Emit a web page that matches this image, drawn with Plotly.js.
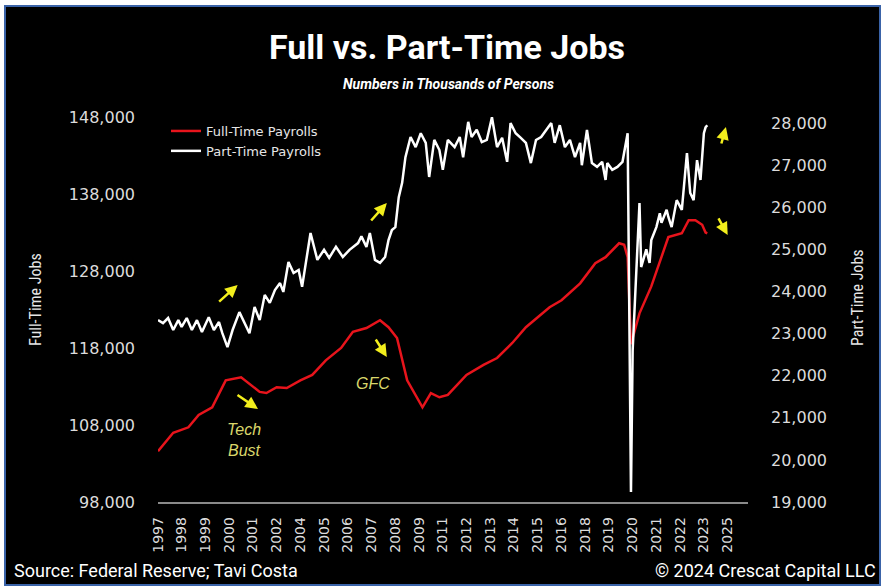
<!DOCTYPE html>
<html>
<head>
<meta charset="utf-8">
<script src="https://cdn.plot.ly/plotly-3.0.1.min.js"></script>
<style>html,body{margin:0;padding:0;background:#fff;}#chart{width:883px;height:586px;}</style>
</head>
<body>
<div id="chart"></div>
<script>
// Full-time payrolls (thousands), left axis
const ftDates = ['1997-01','1997-10','1998-07','1999-01','1999-09','2000-02','2000-05','2001-02','2001-07','2002-01','2002-05','2002-11','2003-05','2004-01','2004-08','2005-04','2006-01','2006-08','2007-04','2007-12','2008-05','2008-10','2009-04','2010-01','2010-06','2010-11','2011-04','2012-03','2013-01','2013-09','2014-06','2015-02','2016-04','2016-11','2017-10','2018-07','2019-01','2019-09','2019-12','2020-02','2020-04','2020-09','2021-04','2022-02','2022-10','2023-02','2023-06','2023-10','2023-12','2024-01'];
const ftValues = [104600,107000,107700,109300,110300,112500,113800,114200,113400,112300,112150,112900,112800,113800,114500,116400,118000,120100,120600,121600,120700,119300,113800,110300,112150,111600,111900,114500,115800,116700,118650,120700,123300,124200,126400,129000,129800,131600,131400,129800,118500,122500,126000,132400,132900,134600,134600,134000,133000,132900];

// Part-time payrolls (thousands), right axis
const ptDates = ['1997-01','1997-04','1997-07','1997-10','1998-01','1998-03','1998-06','1998-09','1998-12','1999-03','1999-07','1999-10','2000-01','2000-03','2000-06','2000-09','2001-01','2001-04','2001-07','2001-10','2002-01','2002-04','2002-07','2002-10','2003-01','2003-03','2003-06','2003-09','2003-12','2004-02','2004-05','2004-07','2004-11','2005-03','2005-06','2005-10','2006-02','2006-06','2006-11','2007-01','2007-04','2007-06','2007-09','2007-12','2008-03','2008-05','2008-07','2008-09','2008-11','2009-01','2009-03','2009-06','2009-09','2009-12','2010-03','2010-05','2010-08','2010-11','2011-01','2011-04','2011-08','2011-11','2012-01','2012-04','2012-06','2012-09','2012-12','2013-03','2013-06','2013-09','2013-12','2014-03','2014-05','2014-08','2014-11','2015-02','2015-05','2015-08','2015-11','2016-02','2016-05','2016-07','2016-10','2017-01','2017-04','2017-07','2017-10','2017-11','2018-02','2018-05','2018-08','2018-11','2019-01','2019-02','2019-05','2019-08','2019-11','2020-02','2020-04','2020-05','2020-09','2020-10','2021-01','2021-03','2021-04','2021-07','2021-09','2021-10','2022-01','2022-02','2022-04','2022-07','2022-10','2023-01','2023-03','2023-05','2023-07','2023-09','2023-11','2023-12','2024-01'];
const ptValues = [23320,23250,23370,23085,23320,23160,23370,23085,23320,23040,23390,23085,23275,23010,22680,23085,23510,23250,23010,23630,23320,23920,23730,24035,24200,23990,24700,24440,24510,24110,24820,25390,24750,24990,24800,25060,24820,24990,25150,25310,25060,25390,24750,24680,24820,25220,25460,25530,26240,26580,27190,27670,27430,27760,27530,26720,27600,27360,26890,27600,27430,27670,27190,28030,27670,27840,27550,27600,28140,27430,27650,27080,28000,27760,27650,27530,27050,27600,27670,27840,28000,27530,27950,27430,27600,27190,27530,27000,27840,27050,26960,27080,26650,27050,26890,26960,27080,27760,19240,22600,26100,24580,25000,24680,25220,25530,25860,25630,25940,25770,25530,26170,25940,27290,26340,26170,27120,26650,27760,27900,27950];

// Axis ticks
const tickDates = ['1997-01-01','1998-03-01','1999-05-01','2000-07-01','2001-09-01','2002-11-01','2004-01-01','2005-03-01','2006-05-01','2007-07-01','2008-09-01','2009-11-01','2011-01-01','2012-03-01','2013-05-01','2014-07-01','2015-09-01','2016-11-01','2018-01-01','2019-03-01','2020-05-01','2021-07-01','2022-09-01','2023-11-01','2025-01-01'];
const tickYears = ['1997','1998','1999','2000','2001','2002','2004','2005','2006','2007','2008','2009','2011','2012','2013','2014','2015','2016','2018','2019','2020','2021','2022','2023','2025'];
const leftTicks = [98000,108000,118000,128000,138000,148000];
const rightTicks = [19000,20000,21000,22000,23000,24000,25000,26000,27000,28000];

const W = 883, H = 586, L = 158, R = 748, T = 110, B = 502;
const px = x => (x - L) / (R - L);
const py = y => (B - y) / (B - T);

const tickFont = {family: 'DejaVu Sans, Verdana, sans-serif', size: 16, color: '#dcdcdc'};
const yellow = '#f2ee1c';
const noteColor = '#d9d66a';

function arrow(x, y, ax, ay) {
  return {x: x, y: y, xref: 'x', yref: 'y', ax: ax, ay: ay, axref: 'pixel', ayref: 'pixel',
    text: '', showarrow: true, arrowhead: 2, arrowsize: 1, arrowwidth: 2.5, arrowcolor: yellow};
}

const data = [
  {x: ftDates, y: ftValues, name: 'Full-Time Payrolls', type: 'scatter', mode: 'lines',
   line: {color: '#e8141c', width: 2.5}, yaxis: 'y'},
  {x: ptDates, y: ptValues, name: 'Part-Time Payrolls', type: 'scatter', mode: 'lines',
   line: {color: '#ffffff', width: 2.5}, yaxis: 'y2'}
];

const layout = {
  width: W, height: H,
  margin: {l: L, r: W - R, t: T, b: H - B, pad: 0},
  paper_bgcolor: '#ffffff', plot_bgcolor: '#000000',
  showlegend: true,
  legend: {x: px(166), y: py(116), xanchor: 'left', yanchor: 'top', bgcolor: 'rgba(0,0,0,0)',
    font: {family: 'DejaVu Sans, Verdana, sans-serif', size: 13, color: '#e6e6e6'}, tracegroupgap: 0, itemwidth: 30},
  title: {text: '<b>Full vs. Part-Time Jobs</b>', x: 447 / W, xref: 'container', xanchor: 'center',
    y: 1 - 47 / H, yref: 'container', yanchor: 'middle',
    font: {family: 'Roboto, sans-serif', size: 34, color: '#ffffff'}},
  xaxis: {type: 'date', range: ['1997-01-01', '2026-01-01'], showgrid: false, zeroline: false,
    showline: true, linecolor: '#8a8a8a', linewidth: 1.5, ticks: '',
    tickmode: 'array', tickvals: tickDates, ticktext: tickYears, tickangle: -90,
    tickfont: {family: 'DejaVu Sans, Verdana, sans-serif', size: 14, color: '#dcdcdc'}, ticklabelstandoff: 8},
  yaxis: {range: [98000, 98000 + (B - T) / 77 * 10000], showgrid: false, zeroline: false, showline: false,
    tickmode: 'array', tickvals: leftTicks, tickformat: ',d', ticks: '', tickfont: tickFont, ticklabelstandoff: 22},
  yaxis2: {overlaying: 'y', side: 'right', range: [19000, 19000 + (B - T) / 42.1 * 1000], showgrid: false,
    zeroline: false, showline: false, tickmode: 'array', tickvals: rightTicks, tickformat: ',d', ticks: '',
    tickfont: tickFont, ticklabelstandoff: 22},
  shapes: [
    {type: 'rect', xref: 'paper', yref: 'paper', x0: px(5), x1: px(880), y0: py(585), y1: py(6),
     fillcolor: '#000000', line: {color: '#3a63a8', width: 2}, layer: 'below'}
  ],
  annotations: [
    {text: '<b><i>Numbers in Thousands of Persons</i></b>', xref: 'paper', yref: 'paper', x: px(448), y: py(84),
     showarrow: false, xanchor: 'center', yanchor: 'middle', font: {family: 'Roboto, sans-serif', size: 14, color: '#ffffff'}},
    {text: 'Full-Time Jobs', xref: 'paper', yref: 'paper', x: px(35), y: py(300), textangle: -90,
     showarrow: false, xanchor: 'center', yanchor: 'middle',
     font: {family: 'Liberation Sans Narrow, Roboto Condensed, Roboto, sans-serif', size: 16, color: '#e6e6e6'}},
    {text: 'Part-Time Jobs', xref: 'paper', yref: 'paper', x: px(857), y: py(298), textangle: -90,
     showarrow: false, xanchor: 'center', yanchor: 'middle',
     font: {family: 'Liberation Sans Narrow, Roboto Condensed, Roboto, sans-serif', size: 16, color: '#e6e6e6'}},
    {text: 'Source: Federal Reserve; Tavi Costa', xref: 'paper', yref: 'paper', x: px(12), y: py(570),
     showarrow: false, xanchor: 'left', yanchor: 'middle', font: {family: 'Roboto, sans-serif', size: 18, color: '#ffffff'}},
    {text: '© 2024 Crescat Capital LLC', xref: 'paper', yref: 'paper', x: px(878), y: py(570),
     showarrow: false, xanchor: 'right', yanchor: 'middle', font: {family: 'Roboto, sans-serif', size: 18, color: '#ffffff'}},
    {text: '<i>Tech<br>Bust</i>', xref: 'x', yref: 'y', x: '2001-04-01', y: 106050, showarrow: false,
     font: {family: 'Liberation Sans, Arial, sans-serif', size: 16, color: noteColor}},
    {text: '<i>GFC</i>', xref: 'x', yref: 'y', x: '2007-08-01', y: 113450, showarrow: false,
     font: {family: 'Liberation Sans, Arial, sans-serif', size: 16, color: noteColor}},
    arrow('2000-12-01', 126180, -20, 18),
    arrow('2008-04-01', 136830, -17, 19),
    arrow('2001-12-01', 110080, -22, -15),
    arrow('2008-04-01', 116830, -12, -19),
    arrow('2024-12-01', 146700, -5, 18),
    arrow('2025-01-01', 132680, -10, -18)
  ]
};

Plotly.newPlot('chart', data, layout, {displayModeBar: false, staticPlot: true});
</script>
</body>
</html>
